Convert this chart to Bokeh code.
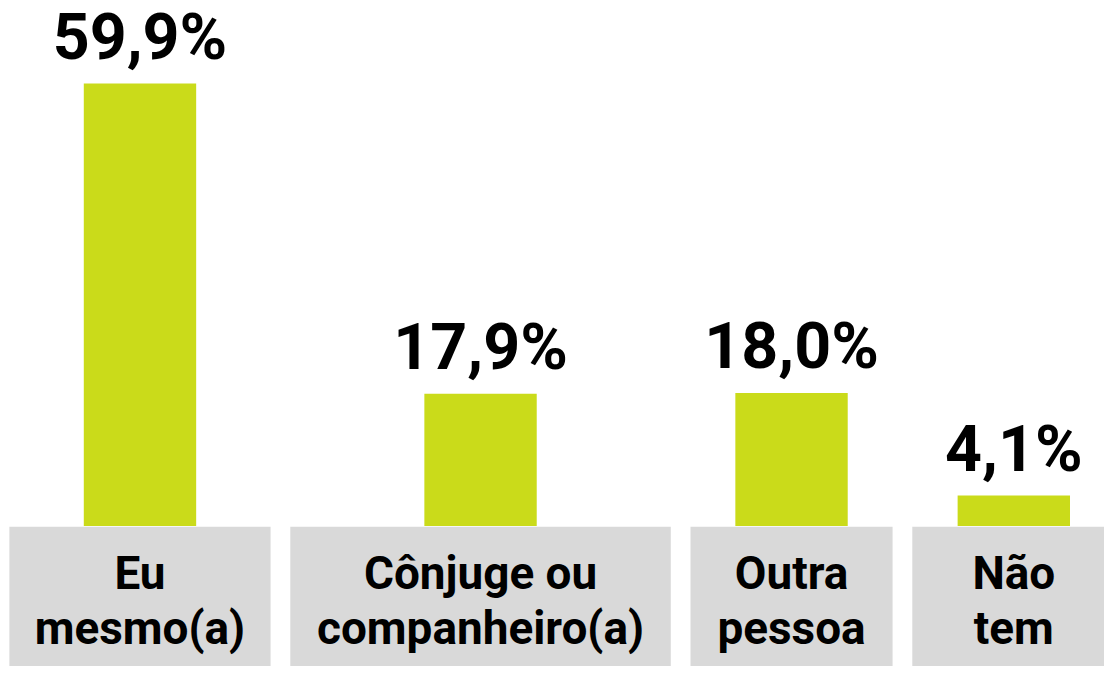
from bokeh.plotting import figure
from bokeh.models import Range1d
from bokeh.core.properties import value
from bokeh.embed import file_html
from bokeh.resources import INLINE

# ---- data ----
categories = ["Eu\nmesmo(a)", "Cônjuge ou\ncompanheiro(a)", "Outra\npessoa", "Não\ntem"]
values = [59.9, 17.9, 18.0, 4.1]
labels = ["59,9%", "17,9%", "18,0%", "4,1%"]

# ---- layout (reference pixel coordinates on x, value units on y) ----
box_widths = [265, 386, 205, 206]
gap = 20
start_x = 9
bar_width = 114
ref_w, ref_h = 1120, 682
baseline_px = 538
px_per_unit = 453 / 59.9   # vertical scale in reference pixels

lefts = []
x = start_x
for w in box_widths:
    lefts.append(x)
    x += w + gap
rights = [l + w for l, w in zip(lefts, box_widths)]
centers = [(l + r) / 2 for l, r in zip(lefts, rights)]

W, H = 1104, 666
sy = H / ref_h
p = figure(width=W, height=H, output_backend="svg", toolbar_location=None,
           x_range=Range1d(0, ref_w),
           y_range=Range1d(-(ref_h - baseline_px) / px_per_unit, baseline_px / px_per_unit),
           min_border=0)
p.axis.visible = False
p.grid.visible = False
p.outline_line_color = None
p.background_fill_color = "white"
p.border_fill_color = "white"

u = 1 / px_per_unit
# gray category boxes
p.quad(left=lefts, right=rights, top=[-1 * u] * 4, bottom=[-150 * u] * 4,
       fill_color="#D9D9D9", line_color=None)

# bars
p.vbar(x=centers, top=values, bottom=0, width=bar_width,
       fill_color="#CADB1A", line_color=None)

vsize = 66 * sy
csize = 47 * sy
# value labels
p.text(x=centers, y=[v + (25 + 23) * u for v in values], text=labels,
       text_font=value("Roboto"), text_font_style="bold", text_font_size=f"{vsize:.1f}px",
       text_align="center", text_baseline="alphabetic", text_color="black")

# category labels (two lines)
line1 = [c.split("\n")[0] for c in categories]
line2 = [c.split("\n")[1] for c in categories]
p.text(x=centers, y=[-(65 - 17) * u] * 4, text=line1,
       text_font=value("Roboto"), text_font_style="bold", text_font_size=f"{csize:.1f}px",
       text_align="center", text_baseline="alphabetic", text_color="black")
p.text(x=centers, y=[-(122 - 17) * u] * 4, text=line2,
       text_font=value("Roboto"), text_font_style="bold", text_font_size=f"{csize:.1f}px",
       text_align="center", text_baseline="alphabetic", text_color="black")

open("out.html", "w").write(file_html(p, INLINE))
